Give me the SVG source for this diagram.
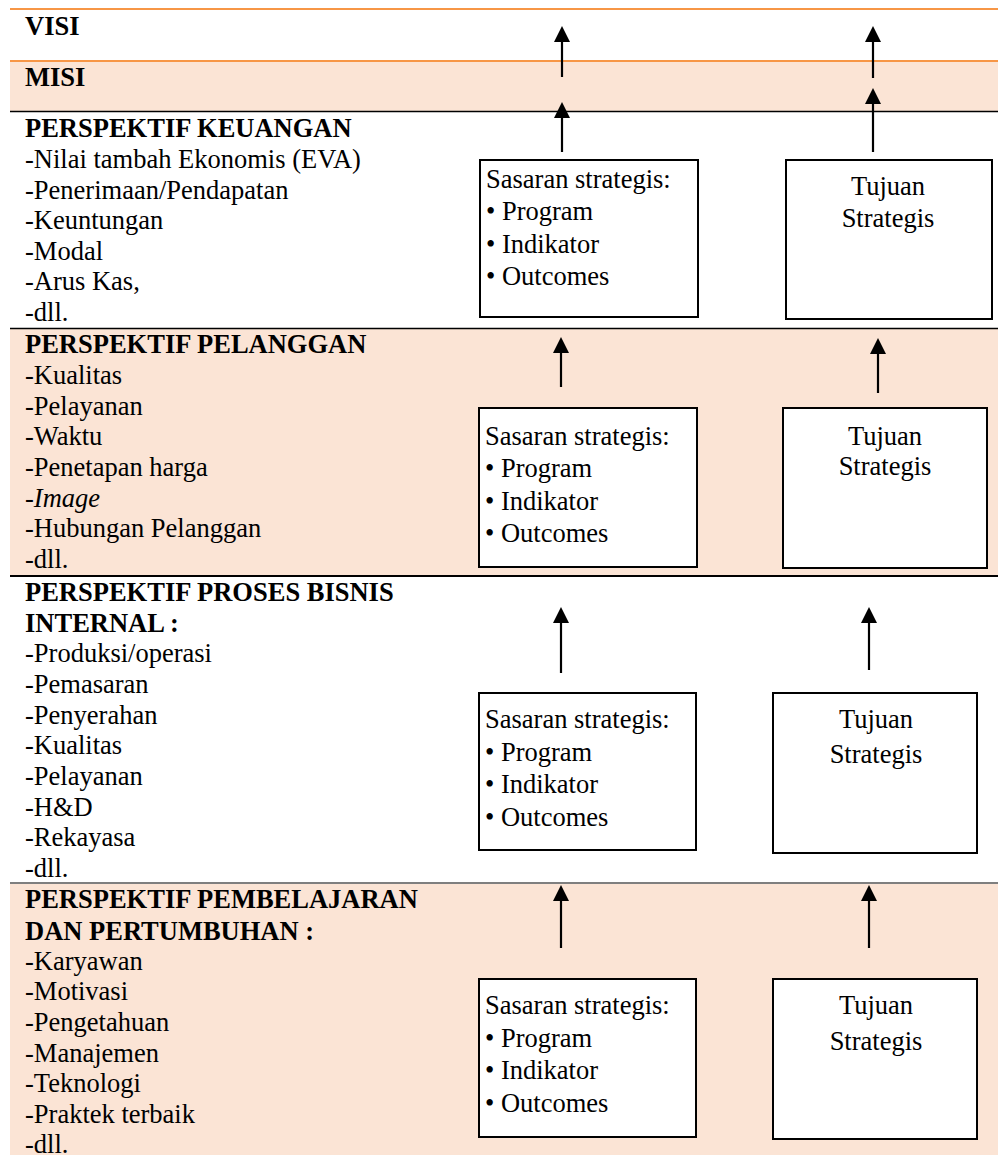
<svg xmlns="http://www.w3.org/2000/svg" width="998" height="1155" viewBox="0 0 998 1155">
<style>
text{font-family:"Liberation Serif","Times New Roman",serif;font-size:26.5px;fill:#000}
.b{font-weight:bold}
.c{text-anchor:middle}
.peach{fill:#FBE4D5}
.box{fill:#fff;stroke:#000;stroke-width:2}
.arr{stroke:#000;stroke-width:2.2;fill:none;marker-end:url(#ah)}
</style>
<defs>
<marker id="ah" viewBox="0 0 16 16" refX="0" refY="8" markerWidth="16" markerHeight="16" markerUnits="userSpaceOnUse" orient="auto">
<path d="M0,0 L16,8 L0,16 Z" fill="#000"/>
</marker>
</defs>
<rect width="998" height="1155" fill="#fff"/>
<g id="bands">
<rect class="peach" x="10" y="62" width="988" height="49"/>
<rect class="peach" x="10" y="329" width="988" height="247"/>
<rect class="peach" x="10" y="884" width="988" height="271"/>
<line x1="10" y1="9" x2="998" y2="9" stroke="#F79646" stroke-width="2.2"/>
<line x1="10" y1="61" x2="998" y2="61" stroke="#F79646" stroke-width="2.2"/>
<line x1="10" y1="111.5" x2="998" y2="111.5" stroke="#000" stroke-width="1.5"/>
<line x1="10" y1="328.5" x2="998" y2="328.5" stroke="#000" stroke-width="1.6"/>
<line x1="10" y1="576" x2="998" y2="576" stroke="#000" stroke-width="2"/>
<line x1="10" y1="883" x2="998" y2="883" stroke="#000" stroke-width="1.2"/>
</g>
<g id="visi"><text class="b" x="25" y="35">VISI</text></g>
<g id="misi"><text class="b" x="25" y="86">MISI</text></g>
<g id="keuangan">
<text class="b" x="25" y="137">PERSPEKTIF KEUANGAN</text>
<text x="25" y="168">-Nilai tambah Ekonomis (EVA)</text>
<text x="25" y="198.5">-Penerimaan/Pendapatan</text>
<text x="25" y="229">-Keuntungan</text>
<text x="25" y="259.5">-Modal</text>
<text x="25" y="290">-Arus Kas,</text>
<text x="25" y="321">-dll.</text>
</g>
<g id="pelanggan">
<text class="b" x="25" y="353">PERSPEKTIF PELANGGAN</text>
<text x="25" y="383.5">-Kualitas</text>
<text x="25" y="414.5">-Pelayanan</text>
<text x="25" y="445">-Waktu</text>
<text x="25" y="476">-Penetapan harga</text>
<text x="25" y="506.5">-<tspan font-style="italic">Image</tspan></text>
<text x="25" y="537">-Hubungan Pelanggan</text>
<text x="25" y="567.5">-dll.</text>
</g>
<g id="proses">
<text class="b" x="25" y="601">PERSPEKTIF PROSES BISNIS</text>
<text class="b" x="25" y="632">INTERNAL :</text>
<text x="25" y="662">-Produksi/operasi</text>
<text x="25" y="693">-Pemasaran</text>
<text x="25" y="723.5">-Penyerahan</text>
<text x="25" y="754">-Kualitas</text>
<text x="25" y="784.5">-Pelayanan</text>
<text x="25" y="815.5">-H&amp;D</text>
<text x="25" y="846">-Rekayasa</text>
<text x="25" y="877">-dll.</text>
</g>
<g id="pembelajaran">
<text class="b" x="25" y="908">PERSPEKTIF PEMBELAJARAN</text>
<text class="b" x="25" y="939.5">DAN PERTUMBUHAN :</text>
<text x="25" y="970">-Karyawan</text>
<text x="25" y="1000">-Motivasi</text>
<text x="25" y="1031">-Pengetahuan</text>
<text x="25" y="1062">-Manajemen</text>
<text x="25" y="1092">-Teknologi</text>
<text x="25" y="1123">-Praktek terbaik</text>
<text x="25" y="1153">-dll.</text>
</g>
<g id="sasaran-keuangan">
<rect class="box" x="480" y="160" width="218" height="157"/>
<text x="486" y="188">Sasaran strategis:</text>
<text x="486" y="220">• Program</text>
<text x="486" y="253">• Indikator</text>
<text x="486" y="285">• Outcomes</text>
</g>
<g id="tujuan-keuangan">
<rect class="box" x="786" y="160" width="206" height="159"/>
<text class="c" x="888" y="195">Tujuan</text>
<text class="c" x="888" y="227">Strategis</text>
</g>
<g id="sasaran-pelanggan">
<rect class="box" x="479" y="408" width="218" height="159"/>
<text x="485" y="445">Sasaran strategis:</text>
<text x="485" y="477">• Program</text>
<text x="485" y="510">• Indikator</text>
<text x="485" y="542">• Outcomes</text>
</g>
<g id="tujuan-pelanggan">
<rect class="box" x="783" y="408" width="204" height="160"/>
<text class="c" x="885" y="445">Tujuan</text>
<text class="c" x="885" y="475">Strategis</text>
</g>
<g id="sasaran-proses">
<rect class="box" x="479" y="693" width="217" height="157"/>
<text x="485" y="728">Sasaran strategis:</text>
<text x="485" y="761">• Program</text>
<text x="485" y="793">• Indikator</text>
<text x="485" y="826">• Outcomes</text>
</g>
<g id="tujuan-proses">
<rect class="box" x="773" y="693" width="204" height="160"/>
<text class="c" x="876" y="728">Tujuan</text>
<text class="c" x="876" y="763">Strategis</text>
</g>
<g id="sasaran-pembelajaran">
<rect class="box" x="479" y="979" width="217" height="158"/>
<text x="485" y="1014">Sasaran strategis:</text>
<text x="485" y="1047">• Program</text>
<text x="485" y="1079">• Indikator</text>
<text x="485" y="1112">• Outcomes</text>
</g>
<g id="tujuan-pembelajaran">
<rect class="box" x="773" y="979" width="204" height="160"/>
<text class="c" x="876" y="1014">Tujuan</text>
<text class="c" x="876" y="1050">Strategis</text>
</g>
<g id="connectors">
<line class="arr" x1="562" y1="77" x2="562" y2="42"/>
<line class="arr" x1="562" y1="152" x2="562" y2="118"/>
<line class="arr" x1="561" y1="387" x2="561" y2="353"/>
<line class="arr" x1="561" y1="673" x2="561" y2="623"/>
<line class="arr" x1="561" y1="948" x2="561" y2="901"/>
<line class="arr" x1="873" y1="78" x2="873" y2="42"/>
<line class="arr" x1="873" y1="152" x2="873" y2="104"/>
<line class="arr" x1="878" y1="393" x2="878" y2="354"/>
<line class="arr" x1="869" y1="670" x2="869" y2="623"/>
<line class="arr" x1="869" y1="948" x2="869" y2="901"/>
</g>
</svg>
